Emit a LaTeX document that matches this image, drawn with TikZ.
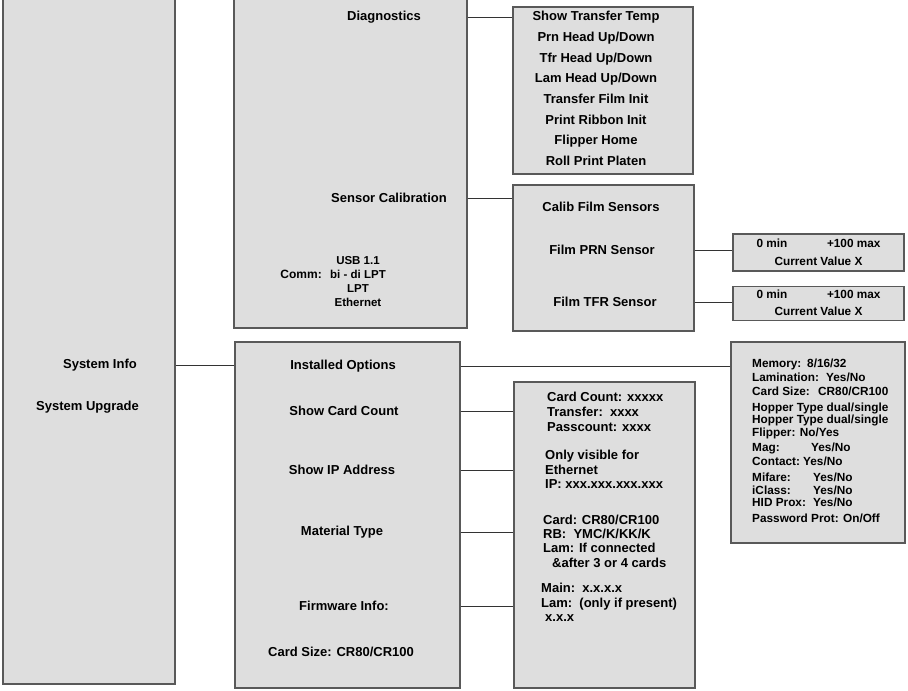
\documentclass[tikz,border=0pt]{standalone}
\usepackage{fontspec}
\setmainfont{Liberation Sans}
\usepackage{tikz}
\usetikzlibrary{positioning}
\tikzset{
  gbox/.style={draw=black!65, fill=black!13, line width=1.2pt, inner sep=0pt},
  vbox/.style={gbox, minimum width=171pt, align=center, font=\bfseries\fontsize{11.8}{18}\selectfont},
  mtxt/.style={font=\bfseries\fontsize{13}{16}\selectfont, inner sep=0pt},
  ltxt/.style={font=\bfseries\fontsize{13}{15}\selectfont, inner sep=0pt, align=left, anchor=west},
  mline/.style={draw=black!80, line width=1pt}
}

\begin{document}
\begin{tikzpicture}[x=1pt,y=-1pt]
\clip (0,0) rectangle (908,691);
% main column boxes
\node[gbox, minimum width=172pt, minimum height=689pt] (b0) at (89,339.5) {};
\node[gbox, minimum width=233pt, minimum height=333pt] (b1) at (350.5,161.5) {};
\node[gbox, minimum width=225pt, minimum height=346pt] (b2) at (347.5,515) {};
% sub menu boxes
\node[gbox, minimum width=180pt, minimum height=167pt] (d0) at (603,90.5) {};
\node[gbox, minimum width=181pt, minimum height=146pt] (s0) at (603.5,258) {};
\node[gbox, minimum width=181pt, minimum height=306pt] (i0) at (604.5,535) {};
\node[gbox, minimum width=174pt, minimum height=201pt] (o0) at (818,442.5) {};
\node[vbox, minimum height=37pt] (v1) at (818.5,252.5) {\makebox[124pt]{0 min\hfill+100 max}\\Current Value X};
\node[vbox, minimum height=34pt, below=14pt of v1, font=\bfseries\fontsize{11.8}{17}\selectfont] (v2) {\makebox[124pt]{0 min\hfill+100 max}\\Current Value X};

% left column
\node[mtxt, anchor=east] (t1) at (137,365) {System Info};
\node[mtxt, anchor=east] (t2) at (139,407) {System Upgrade};

% upper middle box
\node[mtxt] (l1) at (384,17) {Diagnostics};
\node[mtxt] (l2) at (389,198) {Sensor Calibration};
\node[mtxt, align=center, font=\bfseries\fontsize{11.5}{13.7}\selectfont] (c1) at (358,281.5) {USB 1.1\\bi - di LPT\\LPT\\Ethernet};
\node[mtxt, font=\bfseries\fontsize{12}{15}\selectfont, anchor=east] (c0) at (322,274) {Comm:};

% diagnostics list
\node[mtxt, align=center, font=\bfseries\fontsize{13}{20.7}\selectfont] (d1) at (596,88.5) {Show Transfer Temp\\Prn Head Up/Down\\Tfr Head Up/Down\\Lam Head Up/Down\\Transfer Film Init\\Print Ribbon Init\\Flipper Home\\Roll Print Platen};

% sensor calibration list
\node[mtxt] (s1) at (601,207) {Calib Film Sensors};
\node[mtxt] (s2) at (602,250) {Film PRN Sensor};
\node[mtxt] (s3) at (605,302) {Film TFR Sensor};

% lower middle box
\node[mtxt] (m1) at (343,366) {Installed Options};
\node[mtxt] (m2) at (344,411) {Show Card Count};
\node[mtxt] (m3) at (342,470) {Show IP Address};
\node[mtxt] (m4) at (342,532) {Material Type};
\node[mtxt] (m5) at (344,606) {Firmware Info:};
\node[mtxt] (m6) at (341,652) {Card Size: CR80/CR100};

% info box
\node[ltxt] (i1) at (547,411.5) {Card Count: xxxxx\\Transfer:\ \ xxxx\\Passcount: xxxx};
\node[ltxt, font=\bfseries\fontsize{13}{14.5}\selectfont] (i2) at (545,469.5) {Only visible for\\Ethernet\\IP: xxx.xxx.xxx.xxx};
\node[ltxt, font=\bfseries\fontsize{13}{14.3}\selectfont] (i3) at (543,541) {Card: CR80/CR100\\RB:\ \ YMC/K/KK/K\\Lam: If connected\\\hspace*{9pt}\&after 3 or 4 cards};
\node[ltxt, font=\bfseries\fontsize{13}{14.5}\selectfont] (i4) at (541,602.5) {Main:\ \ x.x.x.x\\Lam:\ \ (only if present)\\\hspace*{4pt}x.x.x};

% installed options
\node[ltxt, font=\bfseries\fontsize{11.8}{14}\selectfont] (o1) at (752,441) {\makebox[55pt][l]{Memory:}8/16/32\\
\makebox[74pt][l]{Lamination:}Yes/No\\
\makebox[66pt][l]{Card Size:}CR80/CR100\\[2pt]
Hopper Type dual/single\\[-2pt]
Hopper Type dual/single\\[-1pt]
Flipper: No/Yes\\[1pt]
\makebox[59pt][l]{Mag:}Yes/No\\
\makebox[51pt][l]{Contact:}Yes/No\\[2pt]
\makebox[61pt][l]{Mifare:}Yes/No\\[-1pt]
\makebox[61pt][l]{iClass:}Yes/No\\[-2pt]
\makebox[61pt][l]{HID Prox:}Yes/No\\[2pt]
Password Prot: On/Off};

% connectors
\draw[mline] (b0.east |- t1) -- (b2.west |- t1);
\draw[mline] (b1.east |- l1) -- (d0.west |- l1);
\draw[mline] (b1.east |- l2) -- (s0.west |- l2);
\draw[mline] (s0.east |- s2) -- (v1.west |- s2);
\draw[mline] (s0.east |- s3) -- (v2.west |- s3);
\draw[mline] (b2.east |- m1) -- (o0.west |- m1);
\draw[mline] (b2.east |- m2) -- (i0.west |- m2);
\draw[mline] (b2.east |- m3) -- (i0.west |- m3);
\draw[mline] (b2.east |- m4) -- (i0.west |- m4);
\draw[mline] (b2.east |- m5) -- (i0.west |- m5);
\end{tikzpicture}
\end{document}
